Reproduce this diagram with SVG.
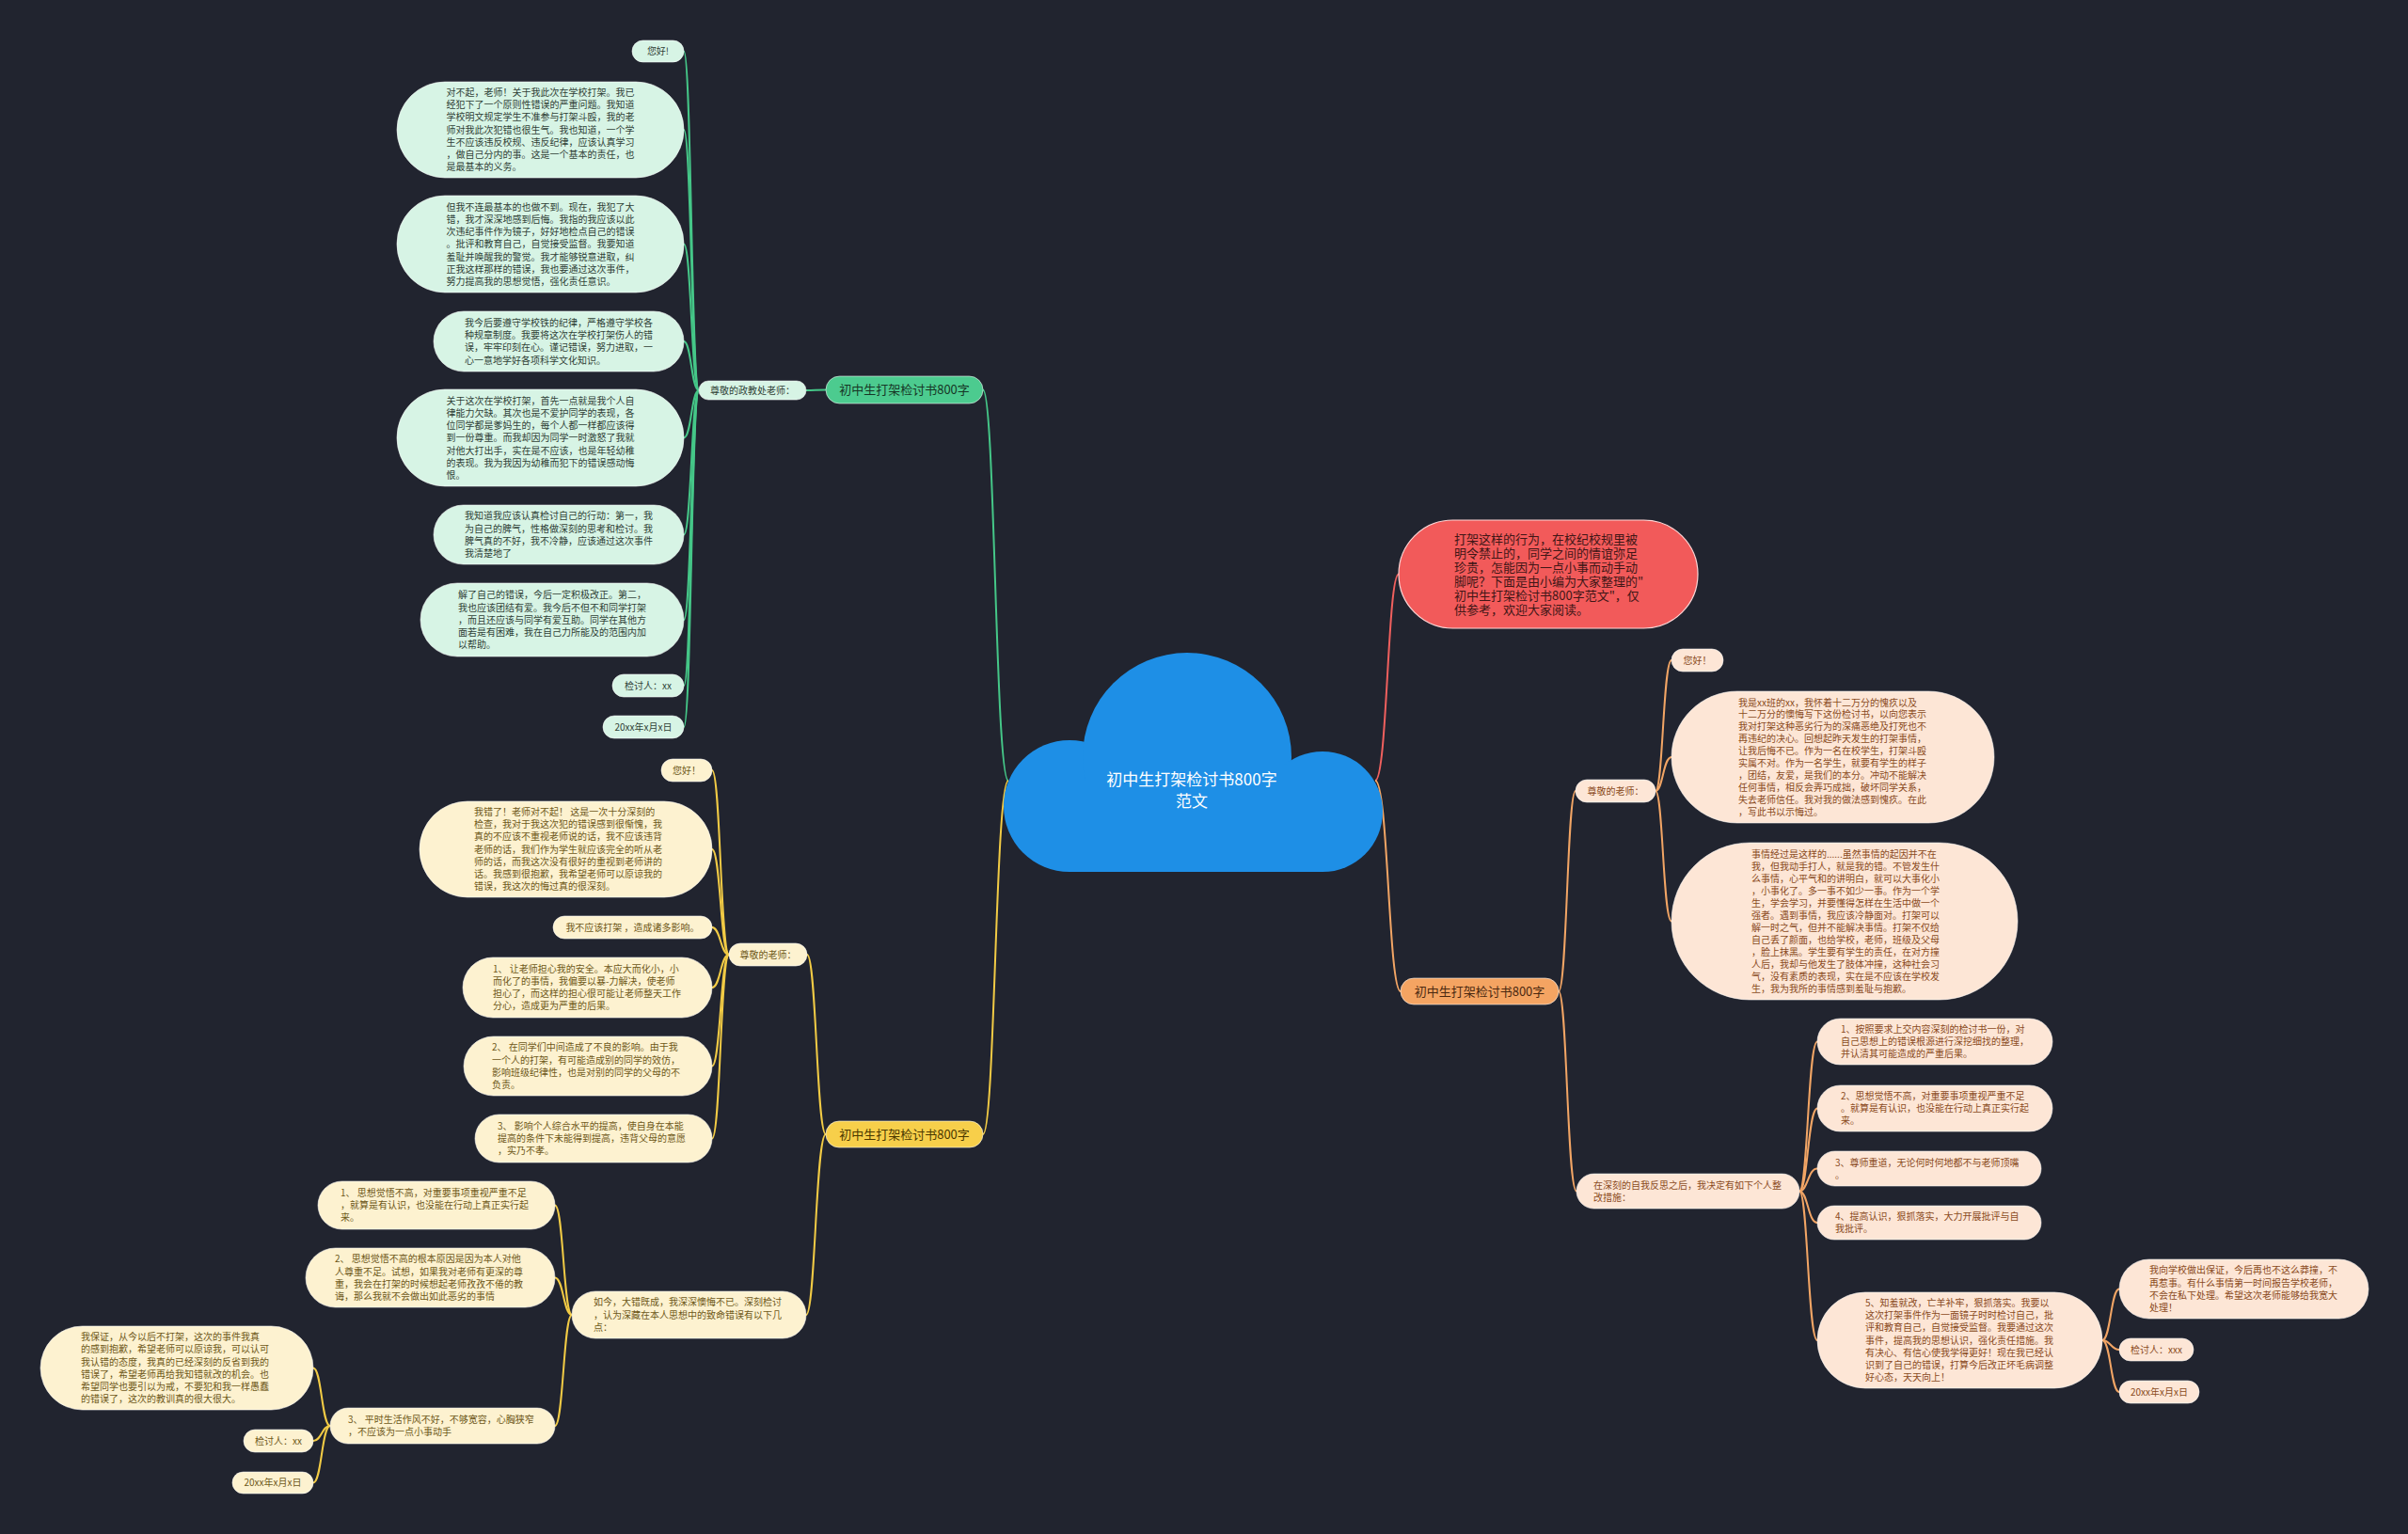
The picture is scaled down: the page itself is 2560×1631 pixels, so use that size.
<svg xmlns="http://www.w3.org/2000/svg" width="2560" height="1631" viewBox="0 0 2560 1631">
<style>
text{font-family:"Noto Sans CJK SC","Noto Sans",sans-serif;font-size:10px}
.c{fill:none;stroke-width:2}
.cg{stroke:#45c788}.cy{stroke:#f2cb45}.co{stroke:#f2a565}.cr{stroke:#f0605e}
.n{stroke:#ffffff;stroke-opacity:.55;stroke-width:1}
.gm{fill:#4ccb8f}.gl{fill:#d7f4e5}.ym{fill:#f7cf4a}.yl{fill:#fdf2d0}.om{fill:#f4a462}.ol{fill:#fde6d6}
.tg{fill:#2f3f36}.ty{fill:#6e5818}.to{fill:#8a4a1c}
.tm{font-size:13px}.tgm{fill:#173626}.tym{fill:#4a3800}.tom{fill:#4a2810}
.mid{text-anchor:middle}
</style>
<rect width="2560" height="1631" fill="#21242f"/>

<g id="connectors">
<!-- green -->
<path class="c cg" d="M1072 830 C1058 830 1058 414.5 1045 414.5"/>
<path class="c cg" d="M878 414.5 C867 414.5 867 415 857 415"/>
<path class="c cg" d="M743 415 C735 415 735 54.5 727 54.5"/>
<path class="c cg" d="M743 415 C735 415 735 138 727 138"/>
<path class="c cg" d="M743 415 C735 415 735 259.5 727 259.5"/>
<path class="c cg" d="M743 415 C735 415 735 363 727 363"/>
<path class="c cg" d="M743 415 C735 415 735 465.5 727 465.5"/>
<path class="c cg" d="M743 415 C735 415 735 568.5 727 568.5"/>
<path class="c cg" d="M743 415 C735 415 735 659 727 659"/>
<path class="c cg" d="M743 415 C735 415 735 729 727 729"/>
<path class="c cg" d="M743 415 C735 415 735 773 727 773"/>
<!-- yellow -->
<path class="c cy" d="M1072 830 C1058 830 1058 1206 1045 1206"/>
<path class="c cy" d="M878 1206 C868 1206 868 1015 858 1015"/>
<path class="c cy" d="M878 1206 C867 1206 867 1398 857 1398"/>
<path class="c cy" d="M775 1015 C766 1015 766 819 757 819"/>
<path class="c cy" d="M775 1015 C766 1015 766 903 757 903"/>
<path class="c cy" d="M775 1015 C766 1015 766 986 757 986"/>
<path class="c cy" d="M775 1015 C766 1015 766 1050 757 1050"/>
<path class="c cy" d="M775 1015 C766 1015 766 1133.5 757 1133.5"/>
<path class="c cy" d="M775 1015 C766 1015 766 1210.5 757 1210.5"/>
<path class="c cy" d="M608 1398 C599 1398 599 1281.5 590 1281.5"/>
<path class="c cy" d="M608 1398 C599 1398 599 1358.5 590 1358.5"/>
<path class="c cy" d="M608 1398 C599 1398 599 1516 590 1516"/>
<path class="c cy" d="M351 1516 C342 1516 342 1454.5 333 1454.5"/>
<path class="c cy" d="M351 1516 C342 1516 342 1532 333 1532"/>
<path class="c cy" d="M351 1516 C342 1516 342 1576.5 333 1576.5"/>
<!-- right -->
<path class="c cr" d="M1462 830 C1475 830 1475 610.5 1487 610.5"/>
<path class="c co" d="M1462 830 C1476 830 1476 1054 1489 1054"/>
<path class="c co" d="M1657 1054 C1666 1054 1666 841 1675 841"/>
<path class="c co" d="M1657 1054 C1666 1054 1666 1266.5 1676 1266.5"/>
<path class="c co" d="M1760 841 C1768 841 1768 702 1777 702"/>
<path class="c co" d="M1760 841 C1768 841 1768 805 1777 805"/>
<path class="c co" d="M1760 841 C1768 841 1768 979.5 1777 979.5"/>
<path class="c co" d="M1913 1266.5 C1922 1266.5 1922 1107.5 1932 1107.5"/>
<path class="c co" d="M1913 1266.5 C1922 1266.5 1922 1178.5 1932 1178.5"/>
<path class="c co" d="M1913 1266.5 C1922 1266.5 1922 1242.5 1932 1242.5"/>
<path class="c co" d="M1913 1266.5 C1922 1266.5 1922 1300 1932 1300"/>
<path class="c co" d="M1913 1266.5 C1922 1266.5 1922 1425 1932 1425"/>
<path class="c co" d="M2235 1425 C2244 1425 2244 1370.5 2253 1370.5"/>
<path class="c co" d="M2235 1425 C2244 1425 2244 1435 2253 1435"/>
<path class="c co" d="M2235 1425 C2244 1425 2244 1480 2253 1480"/>
</g>

<g id="center">
<g fill="#1e8fe6">
<circle cx="1137" cy="857" r="70"/>
<circle cx="1262" cy="805" r="111"/>
<circle cx="1406" cy="863" r="64"/>
<rect x="1137" y="830" width="269" height="97"/>
</g>
<text class="mid" x="1267" y="835" fill="#ffffff" style="font-size:17px">初中生打架检讨书800字</text>
<text class="mid" x="1267" y="858" fill="#ffffff" style="font-size:17px">范文</text>
</g>

<!-- GREEN BRANCH -->
<g id="g-main"><rect class="gm n" x="878" y="400" width="167" height="29" rx="14.5"/><text class="mid tm tgm" x="961.5" y="419">初中生打架检讨书800字</text></g>
<g id="g-sub"><rect class="gl n" x="743" y="405" width="114" height="20" rx="10"/><text class="mid tg" x="800" y="418.5">尊敬的政教处老师：</text></g>
<g id="g1"><rect class="gl n" x="672" y="43" width="55" height="23" rx="11.5"/><text class="mid tg" x="699.5" y="58">您好!</text></g>
<g id="g2"><rect class="gl n" x="422" y="87" width="305" height="102" rx="51"/><text class="tg" x="474.5" y="101.9"><tspan x="474.5">对不起，老师！关于我此次在学校打架。我已</tspan><tspan x="474.5" dy="13.2">经犯下了一个原则性错误的严重问题。我知道</tspan><tspan x="474.5" dy="13.2">学校明文规定学生不准参与打架斗殴，我的老</tspan><tspan x="474.5" dy="13.2">师对我此次犯错也很生气。我也知道，一个学</tspan><tspan x="474.5" dy="13.2">生不应该违反校规、违反纪律，应该认真学习</tspan><tspan x="474.5" dy="13.2">，做自己分内的事。这是一个基本的责任，也</tspan><tspan x="474.5" dy="13.2">是最基本的义务。</tspan></text></g>
<g id="g3"><rect class="gl n" x="422" y="208" width="305" height="103" rx="51"/><text class="tg" x="474.5" y="223.7"><tspan x="474.5">但我不连最基本的也做不到。现在，我犯了大</tspan><tspan x="474.5" dy="13.2">错，我才深深地感到后悔。我指的我应该以此</tspan><tspan x="474.5" dy="13.2">次违纪事件作为镜子，好好地检点自己的错误</tspan><tspan x="474.5" dy="13.2">。批评和教育自己，自觉接受监督。我要知道</tspan><tspan x="474.5" dy="13.2">羞耻并唤醒我的警觉。我才能够锐意进取，纠</tspan><tspan x="474.5" dy="13.2">正我这样那样的错误，我也要通过这次事件，</tspan><tspan x="474.5" dy="13.2">努力提高我的思想觉悟，强化责任意识。</tspan></text></g>
<g id="g4"><rect class="gl n" x="461" y="331" width="266" height="64" rx="32"/><text class="tg" x="494" y="346.9"><tspan x="494">我今后要遵守学校铁的纪律，严格遵守学校各</tspan><tspan x="494" dy="13.2">种规章制度。我要将这次在学校打架伤人的错</tspan><tspan x="494" dy="13.2">误，牢牢印刻在心。谨记错误，努力进取，一</tspan><tspan x="494" dy="13.2">心一意地学好各项科学文化知识。</tspan></text></g>
<g id="g5"><rect class="gl n" x="422" y="414" width="305" height="103" rx="51"/><text class="tg" x="474.5" y="429.7"><tspan x="474.5">关于这次在学校打架，首先一点就是我个人自</tspan><tspan x="474.5" dy="13.2">律能力欠缺。其次也是不爱护同学的表现，各</tspan><tspan x="474.5" dy="13.2">位同学都是爹妈生的，每个人都一样都应该得</tspan><tspan x="474.5" dy="13.2">到一份尊重。而我却因为同学一时激怒了我就</tspan><tspan x="474.5" dy="13.2">对他大打出手，实在是不应该，也是年轻幼稚</tspan><tspan x="474.5" dy="13.2">的表现。我为我因为幼稚而犯下的错误感动悔</tspan><tspan x="474.5" dy="13.2">恨。</tspan></text></g>
<g id="g6"><rect class="gl n" x="461" y="537" width="266" height="63" rx="31.5"/><text class="tg" x="494" y="552.4"><tspan x="494">我知道我应该认真检讨自己的行动：第一，我</tspan><tspan x="494" dy="13.2">为自己的脾气，性格做深刻的思考和检讨。我</tspan><tspan x="494" dy="13.2">脾气真的不好，我不冷静，应该通过这次事件</tspan><tspan x="494" dy="13.2">我清楚地了</tspan></text></g>
<g id="g7"><rect class="gl n" x="447" y="620" width="280" height="78" rx="39"/><text class="tg" x="487" y="636.3"><tspan x="487">解了自己的错误，今后一定积极改正。第二，</tspan><tspan x="487" dy="13.2">我也应该团结有爱。我今后不但不和同学打架</tspan><tspan x="487" dy="13.2">，而且还应该与同学有爱互助。同学在其他方</tspan><tspan x="487" dy="13.2">面若是有困难，我在自己力所能及的范围内加</tspan><tspan x="487" dy="13.2">以帮助。</tspan></text></g>
<g id="g8"><rect class="gl n" x="651" y="717" width="76" height="24" rx="12"/><text class="mid tg" x="689" y="732.5">检讨人：xx</text></g>
<g id="g9"><rect class="gl n" x="641" y="761" width="86" height="24" rx="12"/><text class="mid tg" x="684" y="776.5">20xx年x月x日</text></g>

<!-- YELLOW BRANCH -->
<g id="y-main"><rect class="ym n" x="878" y="1192" width="167" height="28" rx="14"/><text class="mid tm tym" x="961.5" y="1210.5">初中生打架检讨书800字</text></g>
<g id="y-sub1"><rect class="yl n" x="775" y="1003" width="83" height="24" rx="12"/><text class="mid ty" x="816.5" y="1018.5">尊敬的老师：</text></g>
<g id="y1"><rect class="yl n" x="703" y="807" width="54" height="24" rx="12"/><text class="mid ty" x="730" y="822.5">您好！</text></g>
<g id="y2"><rect class="yl n" x="446" y="852" width="311" height="102" rx="51"/><text class="ty" x="504" y="867.2"><tspan x="504">我错了！老师对不起！ 这是一次十分深刻的</tspan><tspan x="504" dy="13.1">检查，我对于我这次犯的错误感到很惭愧，我</tspan><tspan x="504" dy="13.1">真的不应该不重视老师说的话，我不应该违背</tspan><tspan x="504" dy="13.1">老师的话，我们作为学生就应该完全的听从老</tspan><tspan x="504" dy="13.1">师的话，而我这次没有很好的重视到老师讲的</tspan><tspan x="504" dy="13.1">话。我感到很抱歉，我希望老师可以原谅我的</tspan><tspan x="504" dy="13.1">错误，我这次的悔过真的很深刻。</tspan></text></g>
<g id="y3"><rect class="yl n" x="588" y="974" width="169" height="24" rx="12"/><text class="mid ty" x="672.5" y="989.5">我不应该打架 ，造成诸多影响。</text></g>
<g id="y4"><rect class="yl n" x="492" y="1018" width="265" height="64" rx="32"/><text class="ty" x="524" y="1033.9"><tspan x="524">1、 让老师担心我的安全。本应大而化小，小</tspan><tspan x="524" dy="13.1">而化了的事情，我偏要以暴-力解决，使老师</tspan><tspan x="524" dy="13.1">担心了，而这样的担心很可能让老师整天工作</tspan><tspan x="524" dy="13.1">分心，造成更为严重的后果。</tspan></text></g>
<g id="y5"><rect class="yl n" x="493" y="1102" width="264" height="63" rx="31.5"/><text class="ty" x="523" y="1117.4"><tspan x="523">2、 在同学们中间造成了不良的影响。由于我</tspan><tspan x="523" dy="13.1">一个人的打架，有可能造成别的同学的效仿，</tspan><tspan x="523" dy="13.1">影响班级纪律性，也是对别的同学的父母的不</tspan><tspan x="523" dy="13.1">负责。</tspan></text></g>
<g id="y6"><rect class="yl n" x="505" y="1185" width="252" height="51" rx="25.5"/><text class="ty" x="529" y="1200.9"><tspan x="529">3、 影响个人综合水平的提高，使自身在本能</tspan><tspan x="529" dy="13.1">提高的条件下未能得到提高，违背父母的意愿</tspan><tspan x="529" dy="13.1">，实乃不孝。</tspan></text></g>
<g id="y-sub2"><rect class="yl n" x="608" y="1373" width="249" height="50" rx="25"/><text class="ty" x="631" y="1388.4"><tspan x="631">如今，大错既成，我深深懊悔不已。深刻检讨</tspan><tspan x="631" dy="13.1">，认为深藏在本人思想中的致命错误有以下几</tspan><tspan x="631" dy="13.1">点：</tspan></text></g>
<g id="y7"><rect class="yl n" x="338" y="1256" width="252" height="51" rx="25.5"/><text class="ty" x="362" y="1271.9"><tspan x="362">1、 思想觉悟不高，对重要事项重视严重不足</tspan><tspan x="362" dy="13.1">，就算是有认识，也没能在行动上真正实行起</tspan><tspan x="362" dy="13.1">来。</tspan></text></g>
<g id="y8"><rect class="yl n" x="325" y="1327" width="265" height="63" rx="31.5"/><text class="ty" x="356" y="1342.4"><tspan x="356">2、 思想觉悟不高的根本原因是因为本人对他</tspan><tspan x="356" dy="13.1">人尊重不足。试想，如果我对老师有更深的尊</tspan><tspan x="356" dy="13.1">重，我会在打架的时候想起老师孜孜不倦的教</tspan><tspan x="356" dy="13.1">诲，那么我就不会做出如此恶劣的事情</tspan></text></g>
<g id="y9"><rect class="yl n" x="351" y="1497" width="239" height="38" rx="19"/><text class="ty" x="370" y="1513"><tspan x="370">3、 平时生活作风不好，不够宽容，心胸狭窄</tspan><tspan x="370" dy="13.1">，不应该为一点小事动手</tspan></text></g>
<g id="y10"><rect class="yl n" x="43" y="1410" width="290" height="89" rx="44.5"/><text class="ty" x="86" y="1425.3"><tspan x="86">我保证，从今以后不打架，这次的事件我真</tspan><tspan x="86" dy="13.1">的感到抱歉，希望老师可以原谅我，可以认可</tspan><tspan x="86" dy="13.1">我认错的态度，我真的已经深刻的反省到我的</tspan><tspan x="86" dy="13.1">错误了，希望老师再给我知错就改的机会。也</tspan><tspan x="86" dy="13.1">希望同学也要引以为戒，不要犯和我一样愚蠢</tspan><tspan x="86" dy="13.1">的错误了，这次的教训真的很大很大。</tspan></text></g>
<g id="y11"><rect class="yl n" x="259" y="1520" width="74" height="24" rx="12"/><text class="mid ty" x="296" y="1535.5">检讨人：xx</text></g>
<g id="y12"><rect class="yl n" x="247" y="1565" width="86" height="23" rx="11.5"/><text class="mid ty" x="290" y="1580">20xx年x月x日</text></g>

<!-- RED INTRO -->
<g id="intro"><rect x="1487" y="553" width="318" height="115" rx="57.5" fill="#f25a5a" stroke="#ffd6d6" stroke-width="1.2"/><text x="1546" y="577.5" fill="#3f1616" style="font-size:13px"><tspan x="1546">打架这样的行为，在校纪校规里被</tspan><tspan x="1546" dy="15">明令禁止的，同学之间的情谊弥足</tspan><tspan x="1546" dy="15">珍贵，怎能因为一点小事而动手动</tspan><tspan x="1546" dy="15">脚呢？下面是由小编为大家整理的"</tspan><tspan x="1546" dy="15">初中生打架检讨书800字范文"，仅</tspan><tspan x="1546" dy="15">供参考，欢迎大家阅读。</tspan></text></g>

<!-- ORANGE BRANCH -->
<g id="o-main"><rect class="om n" x="1489" y="1040" width="168" height="28" rx="14"/><text class="mid tm tom" x="1573" y="1058.5">初中生打架检讨书800字</text></g>
<g id="o-sub1"><rect class="ol n" x="1675" y="829" width="85" height="24" rx="12"/><text class="mid to" x="1717.5" y="844.5">尊敬的老师：</text></g>
<g id="o1"><rect class="ol n" x="1777" y="690" width="55" height="24" rx="12"/><text class="mid to" x="1804.5" y="705.5">您好！</text></g>
<g id="o2"><rect class="ol n" x="1777" y="735" width="343" height="140" rx="70"/><text class="to" x="1848" y="750.5"><tspan x="1848">我是xx班的xx，我怀着十二万分的愧疚以及</tspan><tspan x="1848" dy="12.9">十二万分的懊悔写下这份检讨书，以向您表示</tspan><tspan x="1848" dy="12.9">我对打架这种恶劣行为的深痛恶绝及打死也不</tspan><tspan x="1848" dy="12.9">再违纪的决心。回想起昨天发生的打架事情，</tspan><tspan x="1848" dy="12.9">让我后悔不已。作为一名在校学生，打架斗殴</tspan><tspan x="1848" dy="12.9">实属不对。作为一名学生，就要有学生的样子</tspan><tspan x="1848" dy="12.9">，团结，友爱，是我们的本分。冲动不能解决</tspan><tspan x="1848" dy="12.9">任何事情，相反会弄巧成拙，破坏同学关系，</tspan><tspan x="1848" dy="12.9">失去老师信任。我对我的做法感到愧疚。在此</tspan><tspan x="1848" dy="12.9">，写此书以示悔过。</tspan></text></g>
<g id="o3"><rect class="ol n" x="1777" y="896" width="368" height="167" rx="83.5"/><text class="to" x="1862" y="911.5"><tspan x="1862">事情经过是这样的......虽然事情的起因并不在</tspan><tspan x="1862" dy="13">我，但我动手打人，就是我的错。不管发生什</tspan><tspan x="1862" dy="13">么事情，心平气和的讲明白，就可以大事化小</tspan><tspan x="1862" dy="13">，小事化了。多一事不如少一事。作为一个学</tspan><tspan x="1862" dy="13">生，学会学习，并要懂得怎样在生活中做一个</tspan><tspan x="1862" dy="13">强者。遇到事情，我应该冷静面对。打架可以</tspan><tspan x="1862" dy="13">解一时之气，但并不能解决事情。打架不仅给</tspan><tspan x="1862" dy="13">自己丢了颜面，也给学校，老师，班级及父母</tspan><tspan x="1862" dy="13">，脸上抹黑。学生要有学生的责任，在对方撞</tspan><tspan x="1862" dy="13">人后，我却与他发生了肢体冲撞，这种社会习</tspan><tspan x="1862" dy="13">气，没有素质的表现，实在是不应该在学校发</tspan><tspan x="1862" dy="13">生，我为我所的事情感到羞耻与抱歉。</tspan></text></g>
<g id="o-sub2"><rect class="ol n" x="1676" y="1248" width="237" height="37" rx="18.5"/><text class="to" x="1694" y="1263.5"><tspan x="1694">在深刻的自我反思之后，我决定有如下个人整</tspan><tspan x="1694" dy="13.1">改措施：</tspan></text></g>
<g id="o4"><rect class="ol n" x="1932" y="1083" width="250" height="49" rx="24.5"/><text class="to" x="1957" y="1097.9"><tspan x="1957">1、按照要求上交内容深刻的检讨书一份，对</tspan><tspan x="1957" dy="13.1">自己思想上的错误根源进行深挖细找的整理，</tspan><tspan x="1957" dy="13.1">并认清其可能造成的严重后果。</tspan></text></g>
<g id="o5"><rect class="ol n" x="1932" y="1154" width="250" height="49" rx="24.5"/><text class="to" x="1957" y="1168.9"><tspan x="1957">2、思想觉悟不高，对重要事项重视严重不足</tspan><tspan x="1957" dy="13.1">。就算是有认识，也没能在行动上真正实行起</tspan><tspan x="1957" dy="13.1">来。</tspan></text></g>
<g id="o6"><rect class="ol n" x="1932" y="1224" width="238" height="37" rx="18.5"/><text class="to" x="1951" y="1239.5"><tspan x="1951">3、尊师重道，无论何时何地都不与老师顶嘴</tspan><tspan x="1951" dy="13.1">。</tspan></text></g>
<g id="o7"><rect class="ol n" x="1932" y="1282" width="238" height="36" rx="18"/><text class="to" x="1951" y="1297"><tspan x="1951">4、提高认识，狠抓落实，大力开展批评与自</tspan><tspan x="1951" dy="13.1">我批评。</tspan></text></g>
<g id="o8"><rect class="ol n" x="1932" y="1374" width="303" height="102" rx="51"/><text class="to" x="1983" y="1389.2"><tspan x="1983">5、知羞就改，亡羊补牢，狠抓落实。我要以</tspan><tspan x="1983" dy="13.1">这次打架事件作为一面镜子时时检讨自己，批</tspan><tspan x="1983" dy="13.1">评和教育自己，自觉接受监督。我要通过这次</tspan><tspan x="1983" dy="13.1">事件，提高我的思想认识，强化责任措施。我</tspan><tspan x="1983" dy="13.1">有决心、有信心使我学得更好！现在我已经认</tspan><tspan x="1983" dy="13.1">识到了自己的错误，打算今后改正坏毛病调整</tspan><tspan x="1983" dy="13.1">好心态，天天向上！</tspan></text></g>
<g id="o9"><rect class="ol n" x="2253" y="1339" width="265" height="63" rx="31.5"/><text class="to" x="2285" y="1354.4"><tspan x="2285">我向学校做出保证，今后再也不这么莽撞，不</tspan><tspan x="2285" dy="13.1">再惹事。有什么事情第一时间报告学校老师，</tspan><tspan x="2285" dy="13.1">不会在私下处理。希望这次老师能够给我宽大</tspan><tspan x="2285" dy="13.1">处理！</tspan></text></g>
<g id="o10"><rect class="ol n" x="2253" y="1423" width="79" height="24" rx="12"/><text class="mid to" x="2292.5" y="1438.5">检讨人：xxx</text></g>
<g id="o11"><rect class="ol n" x="2253" y="1468" width="85" height="24" rx="12"/><text class="mid to" x="2295.5" y="1483.5">20xx年x月x日</text></g>
</svg>
